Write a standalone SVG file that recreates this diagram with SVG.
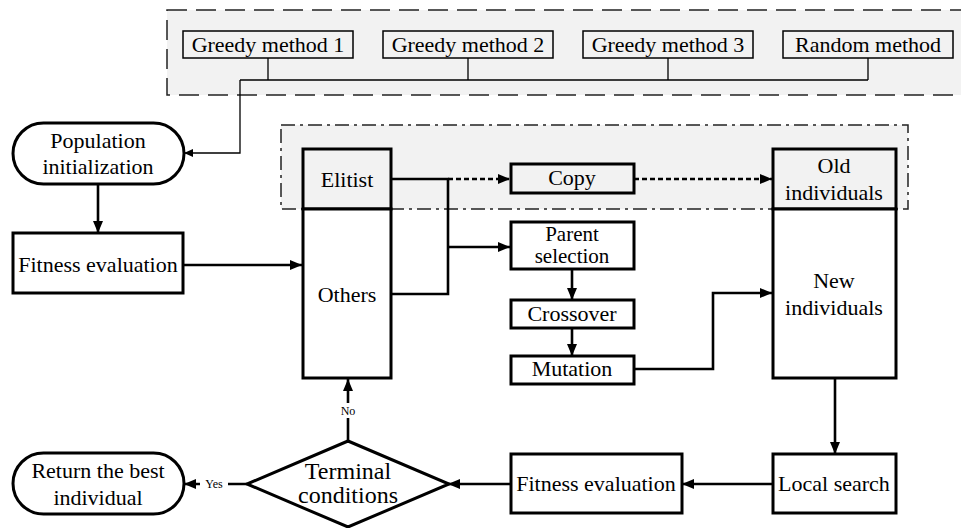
<svg xmlns="http://www.w3.org/2000/svg" width="961" height="528" viewBox="0 0 961 528">
<style>
text{font-family:"Liberation Serif","Noto Serif","DejaVu Serif","Times New Roman",Times,serif;fill:#000;text-anchor:middle}
.t22{font-size:22px}
.t21{font-size:21px}
.t24{font-size:24px}
.sm{font-size:12px}
.box{fill:#fff;stroke:#000;stroke-width:3}
.gbox{fill:#f2f2f2;stroke:#000;stroke-width:3}
.tbox{fill:#f2f2f2;stroke:#000;stroke-width:1.5}
.thin{fill:none;stroke:#000;stroke-width:1.3}
.thick{fill:none;stroke:#000;stroke-width:2.6}
.dot{fill:none;stroke:#000;stroke-width:2.6;stroke-dasharray:5 3}
</style>
<defs>
<marker id="ah" markerWidth="12" markerHeight="10" refX="12" refY="5" orient="auto" markerUnits="userSpaceOnUse"><path d="M0,0 L12,5 L0,10 z" fill="#000"/></marker>
<marker id="ahs" markerWidth="9" markerHeight="8" refX="9" refY="4" orient="auto" markerUnits="userSpaceOnUse"><path d="M0,0 L9,4 L0,8 z" fill="#000"/></marker>
</defs>
<rect width="961" height="528" fill="#fff"/>
<rect x="167" y="10" width="800" height="85" fill="#f2f2f2" stroke="#222" stroke-width="1.5" stroke-dasharray="20 9"/>
<rect x="281" y="125" width="627" height="84" fill="#f2f2f2" stroke="#222" stroke-width="1.5" stroke-dasharray="14 5 3 5"/>

<g id="connectors">
<path class="thin" d="M268,58 V80 M468,58 V80 M668,58 V80 M868,58 V80 M240,80 H868"/>
<path class="thin" d="M240,80 V153 H184" marker-end="url(#ahs)"/>
<path class="thick" d="M98,184 V233" marker-end="url(#ah)"/>
<path class="thick" d="M183,265 H302" marker-end="url(#ah)"/>
<path class="thick" d="M391,179 H448 V294 H391"/>
<path class="dot" d="M448,179 H510" marker-end="url(#ah)"/>
<path class="thick" d="M448,247 H510" marker-end="url(#ah)"/>
<path class="dot" d="M634,179 H772" marker-end="url(#ah)"/>
<path class="thick" d="M572,269 V300" marker-end="url(#ah)"/>
<path class="thick" d="M572,328 V356" marker-end="url(#ah)"/>
<path class="thick" d="M634,369 H713 V293 H772" marker-end="url(#ah)"/>
<path class="thick" d="M835,378 V454" marker-end="url(#ah)"/>
<path class="thick" d="M773,484 H682" marker-end="url(#ah)"/>
<path class="thick" d="M511,484 H448" marker-end="url(#ah)"/>
<path class="thick" d="M348,441 V379" marker-end="url(#ah)"/>
<path class="thick" d="M247,484 H184" marker-end="url(#ah)"/>
<rect x="338" y="403" width="20" height="15" fill="#fff"/>
<text class="sm" x="348" y="415">No</text>
<rect x="200" y="477" width="28" height="15" fill="#fff"/>
<text class="sm" x="214" y="488">Yes</text>
</g>

<g id="greedy1"><rect class="tbox" x="183" y="31" width="170" height="27"/><text class="t22" x="268" y="52">Greedy method 1</text></g>
<g id="greedy2"><rect class="tbox" x="383" y="31" width="170" height="27"/><text class="t22" x="468" y="52">Greedy method 2</text></g>
<g id="greedy3"><rect class="tbox" x="583" y="31" width="170" height="27"/><text class="t22" x="668" y="52">Greedy method 3</text></g>
<g id="random"><rect class="tbox" x="783" y="31" width="170" height="27"/><text class="t22" x="868" y="52">Random method</text></g>

<g id="popinit"><rect class="box" x="13" y="123" width="171" height="61" rx="30.5"/><text class="t22" x="98" y="148">Population</text><text class="t22" x="98" y="174">initialization</text></g>
<g id="fitness1"><rect class="box" x="13" y="233" width="170" height="60"/><text class="t22" x="98" y="272">Fitness evaluation</text></g>

<g id="elitist"><rect class="gbox" x="303" y="149" width="88" height="60"/><text class="t22" x="347" y="187">Elitist</text></g>
<g id="others"><rect class="box" x="303" y="209" width="88" height="169"/><text class="t22" x="347" y="302">Others</text></g>

<g id="copy"><rect class="gbox" x="511" y="164" width="123" height="29"/><text class="t22" x="572" y="185">Copy</text></g>
<g id="parent"><rect class="box" x="511" y="222" width="123" height="47"/><text class="t21" x="572" y="241">Parent</text><text class="t21" x="572" y="263">selection</text></g>
<g id="crossover"><rect class="box" x="511" y="300" width="123" height="28"/><text class="t22" x="572" y="321">Crossover</text></g>
<g id="mutation"><rect class="box" x="511" y="356" width="123" height="28"/><text class="t22" x="572" y="376">Mutation</text></g>

<g id="old"><rect class="gbox" x="773" y="149" width="123" height="60"/><text class="t22" x="834" y="173">Old</text><text class="t22" x="834" y="200">individuals</text></g>
<g id="new"><rect class="box" x="773" y="209" width="123" height="169"/><text class="t22" x="834" y="288">New</text><text class="t22" x="834" y="315">individuals</text></g>

<g id="localsearch"><rect class="box" x="773" y="454" width="123" height="59"/><text class="t22" x="834" y="491">Local search</text></g>
<g id="fitness2"><rect class="box" x="511" y="454" width="171" height="59"/><text class="t22" x="596" y="491">Fitness evaluation</text></g>

<g id="terminal"><path d="M348,441 L449,484 L348,527 L247,484 Z" fill="#fff" stroke="#000" stroke-width="3"/><text class="t24" x="348" y="479">Terminal</text><text class="t24" x="348" y="503">conditions</text></g>
<g id="return"><rect class="box" x="13" y="453" width="171" height="61" rx="30.5"/><text class="t22" x="98" y="478">Return the best</text><text class="t22" x="98" y="505">individual</text></g>
</svg>
